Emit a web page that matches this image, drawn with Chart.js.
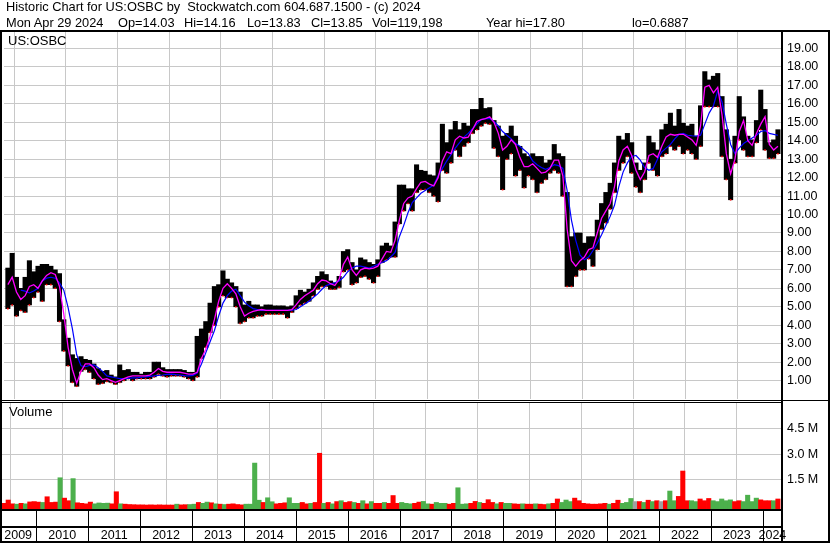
<!DOCTYPE html>
<html>
<head>
<meta charset="utf-8">
<script src="https://cdn.jsdelivr.net/npm/chart.js@4.4.1/dist/chart.umd.min.js"></script>
<style>
  body { margin: 0; background: #fff; }
  #wrap { position: relative; width: 830px; height: 543px; overflow: hidden;
          font-family: "Liberation Sans", Arial, sans-serif; color: #000; }
  canvas { position: absolute; left: 0; }
  .hdr { position: absolute; font-size: 12.8px; line-height: 13px; white-space: pre; }
  .lbl { position: absolute; font-size: 13px; line-height: 13px; }
</style>
</head>
<body>
<div id="wrap">
  <canvas id="price" width="830" height="403" style="top:0"></canvas>
  <canvas id="vol" width="830" height="140" style="top:403px"></canvas>
  <div class="hdr" style="left:6px;top:0">Historic Chart for US:OSBC by  Stockwatch.com 604.687.1500 - (c) 2024</div>
  <div class="hdr" style="left:6px;top:16px">Mon Apr 29 2024</div>
  <div class="hdr" style="left:118px;top:16px">Op=14.03</div>
  <div class="hdr" style="left:184px;top:16px">Hi=14.16</div>
  <div class="hdr" style="left:247px;top:16px">Lo=13.83</div>
  <div class="hdr" style="left:311px;top:16px">Cl=13.85</div>
  <div class="hdr" style="left:372px;top:16px">Vol=119,198</div>
  <div class="hdr" style="left:486px;top:16px">Year hi=17.80</div>
  <div class="hdr" style="left:632px;top:16px">lo=0.6887</div>
  <div class="lbl" style="left:8px;top:34px">US:OSBC</div>
  <div class="lbl" style="left:9px;top:405px">Volume</div>
</div>
<script>
// monthly readings, May 2009 .. Apr 2024
const startYear = 2009, startMonth = 4; // 0-based month index (May)

const high = [
  7.1, 7.9, 6.6, 6.0, 6.6, 7.5, 6.9, 7.2, 7.3, 7.3, 7.2, 7.0,
  6.8, 4.3, 3.3, 2.4, 2.2, 2.3, 2.15, 2.1, 1.9, 1.65, 1.5, 1.55,
  1.3, 1.2, 1.85, 1.55, 1.6, 1.45, 1.45, 1.35, 1.45, 1.45, 2.0, 2.0,
  1.7, 1.6, 1.6, 1.6, 1.6, 1.55, 1.45, 1.45, 3.4, 3.8, 4.2, 5.2,
  6.1, 6.2, 6.95, 6.5, 6.3, 6.1, 5.8, 5.1, 5.3, 5.1, 5.1, 5.0,
  5.1, 5.1, 5.05, 5.05, 5.05, 5.0, 5.05, 5.6, 5.9, 5.8, 5.95, 6.3,
  6.65, 6.9, 6.75, 6.4, 6.3, 6.65, 8.0, 8.1, 7.4, 7.0, 7.65, 7.55,
  7.4, 7.3, 7.55, 8.3, 8.45, 8.3, 9.6, 11.6,
  11.6, 11.4, 11.4, 12.7, 12.4, 12.35, 12.15, 12.1, 12.8, 14.9, 13.9, 14.6,
  15.05, 14.6, 14.95, 14.8, 15.7, 15.7, 16.3, 15.75, 15.8, 15.1, 14.8, 14.25,
  14.4, 14.8, 14.25, 13.7, 13.3, 13.15, 13.3, 13.15, 13.15, 12.8, 12.95, 13.8,
  13.3, 13.15, 11.2, 8.8, 9.0, 9.0, 8.45, 8.8, 8.8, 9.7, 10.6, 11.2,
  11.7, 12.8, 14.25, 14.05, 14.4, 13.9, 12.8, 12.4, 12.8, 14.25, 13.9, 13.5,
  14.6, 14.9, 15.5, 14.8, 15.7, 14.95, 14.8, 14.9, 14.25, 15.9, 17.75, 17.3,
  17.5, 17.65, 16.4, 14.6, 13.0, 14.25, 16.4, 15.3, 14.25, 14.05, 15.1, 16.75,
  15.7, 13.9, 14.05, 14.6
];
const low = [
  4.9, 5.1, 4.5, 4.8, 4.7, 5.1, 5.5, 5.8, 5.3, 6.2, 6.2, 6.0,
  4.2, 2.6, 1.8, 0.9, 0.69, 1.5, 1.6, 1.45, 1.1, 0.8, 0.85, 0.95,
  0.9, 0.8, 0.9, 1.0, 1.1, 1.0, 1.1, 1.1, 1.1, 1.1, 1.2, 1.35,
  1.25, 1.2, 1.25, 1.25, 1.25, 1.2, 1.1, 1.0, 1.2, 2.2, 2.8, 3.6,
  4.0, 5.0, 5.6, 5.5, 5.5, 5.0, 4.1, 4.2, 4.4, 4.4, 4.5, 4.5,
  4.6, 4.6, 4.6, 4.6, 4.6, 4.4, 4.7, 4.9, 5.1, 5.2, 5.3, 5.6,
  5.95, 6.1, 6.1, 5.95, 5.95, 6.05, 6.9, 7.0, 6.2, 6.3, 6.6, 6.65,
  6.5, 6.3, 6.65, 7.4, 7.55, 7.7, 7.7, 9.5,
  10.2, 10.6, 10.2, 11.2, 11.35, 11.35, 11.2, 11.0, 10.7, 12.4, 12.25, 12.8,
  13.5, 13.15, 13.7, 13.9, 14.4, 14.6, 14.8, 14.95, 14.9, 13.6, 13.15, 11.35,
  13.0, 13.3, 12.1, 12.4, 11.45, 12.1, 11.9, 11.2, 11.7, 11.9, 12.25, 12.4,
  12.25, 11.0, 6.1, 6.1, 6.65, 7.0, 7.0, 7.6, 7.2, 8.1, 9.2, 9.55,
  10.3, 11.2, 12.4, 12.8, 13.15, 12.25, 11.5, 11.2, 11.9, 12.8, 12.4, 12.1,
  13.15, 13.3, 13.7, 13.5, 13.7, 13.3, 13.5, 13.3, 13.0, 13.7, 15.85, 15.85,
  15.85, 15.85, 13.15, 11.9, 10.8, 12.8, 14.05, 13.5, 13.15, 13.15, 13.9, 14.6,
  13.5, 13.05, 13.05, 13.3
];
// short moving average (magenta)
const maShort = [
  6.2, 6.6, 5.8, 5.4, 5.6, 6.1, 6.2, 6.0, 6.4, 6.7, 6.85, 6.75,
  6.1, 4.6, 2.8, 1.6, 0.85, 1.5, 1.9, 1.9, 1.7, 1.3, 1.05, 1.1,
  1.0, 0.9, 1.0, 1.1, 1.2, 1.25, 1.25, 1.25, 1.25, 1.3, 1.45, 1.65,
  1.5, 1.45, 1.45, 1.45, 1.45, 1.4, 1.35, 1.35, 1.45, 2.2, 2.7, 3.4,
  4.3, 5.3, 6.0, 6.25, 6.0, 5.7, 5.0, 4.5, 4.65, 4.75, 4.8, 4.85,
  4.8, 4.8, 4.8, 4.8, 4.8, 4.8, 4.85, 5.1, 5.4, 5.6, 5.75, 5.9,
  6.25, 6.45, 6.4, 6.25, 6.15, 6.5, 7.3, 7.7, 7.0, 6.7, 7.0, 7.1,
  7.05, 7.1, 7.2, 7.6, 8.0, 7.95, 8.6, 9.7,
  10.6, 10.9, 11.0, 11.4, 11.75, 11.8, 11.65, 11.55, 12.0, 12.9, 13.4, 13.3,
  14.05, 14.25, 14.15, 14.2, 14.6, 15.05, 15.15, 15.2, 15.3, 15.0, 14.4, 13.5,
  13.7, 14.05, 13.8, 13.1, 12.6, 12.6, 12.75, 12.5, 12.25, 12.3, 12.5, 12.95,
  12.95, 12.1, 9.2, 7.5, 7.2, 7.5, 7.7, 8.1, 8.2, 9.0, 9.8, 10.2,
  10.6, 11.5, 12.9, 13.5, 13.7, 13.2, 12.4, 11.9, 12.3, 13.2, 13.3, 13.1,
  13.7, 14.2, 14.35, 14.3, 14.35, 14.35, 14.2, 14.05, 13.75, 14.8, 16.9, 17.0,
  16.6, 16.9, 15.4, 13.3, 12.2, 13.0, 14.5, 15.1, 14.0, 13.75, 14.4, 14.9,
  15.3, 13.8, 13.5, 13.7
];
// long moving average (blue)
const maLong = [
  null, null, null, 5.9, 5.85, 5.75, 5.85, 6.0, 6.4, 6.55, 6.6, 6.55,
  6.3, 5.9, 4.95, 3.8, 2.4, 1.8, 1.75, 1.82, 1.85, 1.7, 1.5, 1.25,
  1.2, 1.15, 1.1, 1.1, 1.12, 1.15, 1.15, 1.18, 1.2, 1.23, 1.25, 1.28,
  1.3, 1.33, 1.35, 1.32, 1.3, 1.27, 1.25, 1.28, 1.4, 1.9, 2.5, 3.1,
  3.7, 4.5, 5.2, 5.6, 5.85, 5.95, 5.6, 5.25, 5.05, 4.9, 4.85, 4.8,
  4.8, 4.8, 4.8, 4.8, 4.8, 4.8, 4.82, 4.85, 5.0, 5.15, 5.3, 5.5,
  5.7, 5.95, 6.15, 6.23, 6.3, 6.4, 6.6, 6.9, 7.1, 7.2, 7.2, 7.15,
  7.1, 7.2, 7.3, 7.4, 7.5, 7.7, 7.95, 8.8,
  9.4, 10.1, 10.65, 10.9, 11.15, 11.3, 11.45, 11.6, 12.1, 12.5, 12.9, 13.25,
  13.6, 13.9, 14.2, 14.4, 14.65, 14.9, 15.15, 15.2, 15.2, 15.05, 14.8, 14.5,
  14.3, 14.1, 13.85, 13.7, 13.5, 13.3, 12.9, 12.7, 12.55, 12.45, 12.55, 12.7,
  12.65, 12.5, 11.3, 9.7, 8.6, 7.8, 7.55, 7.7, 8.05, 8.45, 8.9, 9.4,
  9.9, 10.5, 11.5, 12.3, 12.8, 13.15, 13.2, 12.95, 12.55, 12.4, 12.5, 13.0,
  13.4, 13.6, 13.8, 14.1, 14.35, 14.4, 14.3, 14.27, 14.25, 14.3, 14.9, 15.5,
  15.9, 16.7, 16.1, 14.9, 13.8, 13.3, 13.6, 13.85, 14.0, 14.15, 14.3, 14.5,
  14.55, 14.4, 14.35, 14.3
];
// volume in millions, largest session of each month, and its colour (u/d/n)
const volume = [
  0.15, 0.34, 0.12, 0.10, 0.15, 0.12, 0.23, 0.25, 0.22, 0.20, 0.53, 0.20,
  0.22, 1.63, 0.45, 0.30, 1.58, 0.18, 0.15, 0.12, 0.22, 0.12, 0.17, 0.15,
  0.16, 0.12, 0.82, 0.12, 0.10, 0.08, 0.07, 0.06, 0.06, 0.05, 0.06, 0.05,
  0.06, 0.05, 0.05, 0.05, 0.10, 0.06, 0.07, 0.08, 0.10, 0.20, 0.15, 0.22,
  0.18, 0.12, 0.10, 0.08, 0.10, 0.12, 0.08, 0.06, 0.10, 0.10, 2.48, 0.33,
  0.20, 0.47, 0.24, 0.12, 0.15, 0.18, 0.47, 0.15, 0.15, 0.20, 0.12, 0.15,
  0.20, 3.05, 0.15, 0.20, 0.12, 0.25, 0.30, 0.20, 0.25, 0.20, 0.15, 0.30,
  0.12, 0.25, 0.15, 0.15, 0.20, 0.15, 0.60, 0.15,
  0.20, 0.15, 0.12, 0.15, 0.22, 0.26, 0.12, 0.10, 0.20, 0.15, 0.15, 0.10,
  0.15, 1.05, 0.10, 0.12, 0.15, 0.26, 0.20, 0.15, 0.36, 0.20, 0.12, 0.20,
  0.15, 0.15, 0.12, 0.10, 0.12, 0.10, 0.10, 0.12, 0.10, 0.08, 0.12, 0.15,
  0.40, 0.20, 0.34, 0.25, 0.45, 0.30, 0.15, 0.12, 0.10, 0.10, 0.12, 0.15,
  0.10, 0.15, 0.33, 0.15, 0.20, 0.43, 0.25, 0.25, 0.20, 0.33, 0.25, 0.30,
  0.25, 0.30, 0.86, 0.30, 0.55, 2.02, 0.30, 0.30, 0.25, 0.40, 0.30, 0.43,
  0.30, 0.25, 0.40, 0.30, 0.35, 0.25, 0.30, 0.25, 0.62, 0.25, 0.45, 0.35,
  0.30, 0.30, 0.30, 0.40
];
const volDir =
  'dddududdduddduddudddduuuudduddddddddddddudduuduudududddduuuud' +
  'uuddduuudduddudududdudududduddduuudduuduuudduuudduddduduuddudduddudduuuddddddddudduuundududnduuddduuddduuuuudduuuuddduddudduduuu';

const priceTicks = [1, 2, 3, 4, 5, 6, 7, 8, 9, 10, 11, 12, 13, 14, 15, 16, 17, 18, 19];
const volTicks = [1.5, 3.0, 4.5];
const yearTicks = [2010, 2011, 2012, 2013, 2014, 2015, 2016, 2017, 2018, 2019, 2020, 2021, 2022, 2023, 2024];
const yearLabels = ['2009', '2010', '2011', '2012', '2013', '2014', '2015', '2016',
                    '2017', '2018', '2019', '2020', '2021', '2022', '2023', '2024'];

const X_MIN = 2009.30, X_MAX = 2024.37;
const P_MAX = 19.95;
const V_MIN = -0.18, V_MAX = 5.96;

const monthX = high.map((_, i) => startYear + (startMonth + i + 0.5) / 12);
const labelX = yearLabels.map(y => {
  const a = Math.max(+y, X_MIN), b = Math.min(+y + 1, X_MAX);
  return (a + b) / 2;
});

Chart.defaults.font.family = "'Liberation Sans', Arial, sans-serif";
Chart.defaults.font.size = 12.5;
Chart.defaults.color = '#000';

const GRID = '#c8c8c8';
const RED = '#ff0000', GREEN = '#4cb04c', GREY = '#a0a0a0';

// keep chart.js from reserving room for half-labels at the plot edges
const noPad = s => { s.paddingTop = 0; s.paddingBottom = 0; s.paddingLeft = 0; s.paddingRight = 0; };

const frame = {
  id: 'frame',
  afterDraw(chart) {
    const c = chart.ctx;
    c.save();
    c.fillStyle = '#000';
    if (chart.canvas.id === 'price') {
      c.fillRect(0, 30, 830, 2);
      c.fillRect(0, 30, 2, 373);
      c.fillRect(781, 30, 2, 373);
      c.fillRect(828, 30, 2, 373);
      c.fillRect(0, 400, 830, 1);
      c.fillRect(0, 402, 781, 1);
    } else {
      c.fillRect(0, 0, 2, 140);
      c.fillRect(781, 0, 2, 140);
      c.fillRect(828, 0, 2, 140);
      c.fillRect(0, 106, 781, 2);
      c.fillRect(0, 123, 781, 2);
      c.fillRect(0, 138, 830, 2);
      const xs = chart.scales.x;
      yearTicks.forEach(y => {
        c.fillRect(Math.round(xs.getPixelForValue(y)), 108, 1, 30);
      });
    }
    c.restore();
  }
};

function xGrid() {
  return {
    type: 'linear', min: X_MIN, max: X_MAX, offset: false,
    afterBuildTicks: s => { s.ticks = yearTicks.map(v => ({ value: v })); },
    afterFit: noPad,
    ticks: { display: false },
    grid: { color: GRID, drawTicks: false },
    border: { display: false }
  };
}

new Chart(document.getElementById('price'), {
  type: 'bar',
  data: {
    datasets: [
      {
        type: 'line', label: 'short', order: 0,
        data: monthX.map((x, i) => ({ x, y: maShort[i] })),
        borderColor: '#ff00ff', borderWidth: 1.3, pointRadius: 0, tension: 0
      },
      {
        type: 'line', label: 'long', order: 1,
        data: monthX.map((x, i) => ({ x, y: maLong[i] })),
        borderColor: '#0000ff', borderWidth: 1.2, pointRadius: 0, tension: 0
      },
      {
        type: 'scatter', label: 'down close', order: 2,
        data: monthX.map((x, i) => ({ x, y: low[i] })),
        pointStyle: 'rect', pointRadius: 1.1, borderWidth: 0,
        backgroundColor: RED
      },
      {
        type: 'bar', label: 'range', order: 3,
        data: monthX.map((x, i) => ({ x, y: [low[i], high[i]] })),
        backgroundColor: '#000', barThickness: 4.4
      }
    ]
  },
  options: {
    responsive: false, animation: false,
    layout: { padding: { top: 31, left: 0, right: 0, bottom: 3 } },
    plugins: { legend: { display: false }, tooltip: { enabled: false } },
    scales: {
      x: xGrid(),
      y: {
        position: 'right', min: 0, max: P_MAX,
        afterBuildTicks: s => { s.ticks = priceTicks.map(v => ({ value: v })); },
        afterFit: s => { s.width = 48; noPad(s); },
        ticks: { padding: 5, callback: v => v.toFixed(2) },
        grid: { color: GRID, drawTicks: false },
        border: { display: false }
      }
    }
  },
  plugins: [frame]
});

const volColor = volDir.split('').map(d => d === 'u' ? GREEN : d === 'n' ? GREY : RED);

new Chart(document.getElementById('vol'), {
  type: 'bar',
  data: {
    datasets: [{
      label: 'volume',
      data: monthX.map((x, i) => ({ x, y: volume[i] })),
      backgroundColor: volColor.slice(0, volume.length),
      barThickness: 4.4,
      base: V_MIN
    }]
  },
  options: {
    responsive: false, animation: false,
    layout: { padding: 0 },
    plugins: { legend: { display: false }, tooltip: { enabled: false } },
    scales: {
      x: xGrid(),
      xl: {
        type: 'linear', position: 'bottom', min: X_MIN, max: X_MAX, offset: false,
        afterBuildTicks: s => { s.ticks = labelX.map(v => ({ value: v })); },
        afterFit: s => { s.height = 34; noPad(s); },
        ticks: { padding: 19, maxRotation: 0, autoSkip: false, font: { size: 12.5 },
                 callback: (v, i) => yearLabels[i] },
        grid: { display: false, drawTicks: false },
        border: { display: false }
      },
      y: {
        position: 'right', min: V_MIN, max: V_MAX,
        afterBuildTicks: s => { s.ticks = volTicks.map(v => ({ value: v })); },
        afterFit: s => { s.width = 48; noPad(s); },
        ticks: { padding: 5, callback: v => v.toFixed(1) + ' M' },
        grid: { color: GRID, drawTicks: false },
        border: { display: false }
      }
    }
  },
  plugins: [frame]
});
</script>
</body>
</html>
